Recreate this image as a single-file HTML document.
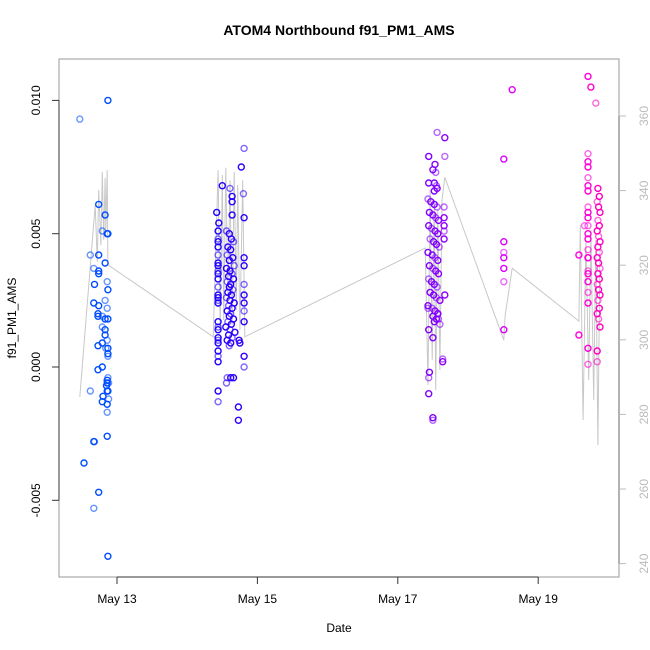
<!DOCTYPE html>
<html><head><meta charset="utf-8"><style>
body{margin:0;background:#fff}
svg{display:block;font-family:"Liberation Sans",sans-serif}
</style></head><body>
<svg id="chart" width="650" height="650">
<text x="339" y="35" text-anchor="middle" font-size="14" font-weight="bold">ATOM4 Northbound f91_PM1_AMS</text>
<text x="339" y="632" text-anchor="middle" font-size="12">Date</text>
<text transform="translate(16,318) rotate(-90)" text-anchor="middle" font-size="12">f91_PM1_AMS</text>
<rect x="59" y="59" width="560" height="518" fill="none" stroke="#999"/>
<g id="line"></g>
<g id="pts"></g>
<g id="axes"></g>
</svg>
<script>
const xTicks=[13,15,17,19];
const xTickLabels=["May 13","May 15","May 17","May 19"];
const yTicks=[-0.005,0,0.005,0.010];
const yTickLabels=["-0.005","0.000","0.005","0.010"];
const rTicks=[240,260,280,300,320,340,360];
const lineDays=[12.47,12.69,12.72,12.74,12.77,12.79,12.81,12.83,12.84,12.86,12.87,14.37,14.44,14.47,14.50,14.52,14.55,14.58,14.61,14.64,14.67,14.70,14.72,14.75,14.79,14.82,17.39,17.43,17.46,17.49,17.52,17.54,17.57,17.60,17.63,17.67,18.51,18.53,18.63,19.58,19.60,19.64,19.68,19.72,19.75,19.79,19.82,19.85,19.88];
const lineVals=[284.7,336.1,320.9,340.2,325.4,345.0,326.8,343.4,328.9,345.5,320.1,300.8,345.5,302.6,344.2,305.3,346.1,310.7,342.8,304.0,345.0,308.0,341.5,302.6,342.8,300.8,324.6,287.9,340.2,294.6,337.5,286.5,334.8,291.9,337.5,343.6,299.9,306.6,319.2,305.0,330.8,278.5,326.8,289.2,329.4,283.9,326.8,271.8,324.1];
const days=[
12.87,12.47,12.74,12.83,12.79,12.86,12.87,12.62,12.74,12.83,12.67,12.74,12.74,12.86,12.68,12.87,12.83,12.67,12.74,12.86,12.73,12.73,12.79,12.83,12.87,12.79,12.83,12.83,12.86,12.79,12.73,12.84,12.87,12.87,12.87,12.79,12.73,12.87,12.86,12.86,12.88,12.85,12.86,12.62,12.87,12.80,12.88,12.79,12.86,12.86,12.86,12.67,12.68,12.53,12.74,12.67,12.87,
14.44,14.44,14.44,14.44,14.44,14.44,14.44,14.44,14.44,14.44,14.44,14.44,14.44,14.44,14.44,14.44,14.44,14.44,14.44,14.44,14.44,14.44,14.44,14.44,14.44,14.44,14.45,14.42,
14.81,14.77,14.50,14.61,14.64,14.64,14.80,14.64,14.81,
14.56,14.60,14.63,14.66,14.58,14.62,14.57,14.65,14.60,14.67,14.56,14.61,14.64,14.59,14.66,14.57,14.62,14.60,14.65,14.58,14.63,14.56,14.61,14.67,14.59,14.64,14.57,14.62,14.60,14.66,14.58,14.63,14.55,14.61,14.68,14.59,14.64,14.57,14.62,14.60,
14.81,14.81,14.81,14.81,14.81,14.81,14.81,14.81,14.81,14.74,14.75,
14.57,14.62,14.66,14.56,14.73,14.73,
17.56,17.67,17.44,17.67,17.50,17.53,17.54,17.44,17.52,17.55,17.52,17.56,
17.43,17.47,17.52,17.56,17.45,17.50,17.54,17.58,17.44,17.48,17.53,17.57,17.46,17.51,17.55,17.59,17.43,17.49,17.53,17.57,17.45,17.50,17.54,17.58,17.44,17.48,17.52,17.56,17.46,17.51,17.55,17.60,17.43,17.49,17.53,17.57,
17.66,17.66,17.66,17.66,17.66,
17.67,17.43,17.57,17.50,17.58,17.52,17.55,17.60,17.44,17.50,17.64,17.64,17.45,17.44,17.44,17.50,17.50,
18.51,18.51,18.51,18.51,18.51,18.51,18.51,18.63,
19.71,19.71,19.71,19.71,19.71,19.71,19.71,19.71,19.71,19.71,19.71,19.71,19.71,19.71,19.71,19.71,19.71,19.71,19.71,19.71,19.71,19.71,
19.58,19.58,19.66,
19.85,19.87,19.84,19.86,19.88,19.85,19.87,19.84,19.86,19.88,19.85,19.87,19.84,19.86,19.88,19.85,19.87,19.84,19.86,19.88,19.85,19.87,19.84,19.86,19.88,
19.84,19.84,19.71,19.75,19.82];
const vals=[
.0100,.0093,.0061,.0057,.0051,.0050,.0050,.0042,.0042,.0039,.0037,.0036,.0035,.0032,.0031,.0029,.0025,.0024,.0023,.0022,.0020,.0019,.0019,.0018,.0018,.0015,.0014,.0012,.0010,.0009,.0008,.0007,.0007,.0005,.0004,.0000,-.0001,-.0004,-.0005,-.0006,-.0006,-.0007,-.0009,-.0009,-.0009,-.0011,-.0012,-.0013,-.0014,-.0017,-.0026,-.0028,-.0028,-.0036,-.0047,-.0053,-.0071,
.0051,.0048,.0047,.0045,.0042,.0039,.0038,.0036,.0035,.0033,.0030,.0027,.0026,.0025,.0024,.0017,.0015,.0014,.0011,.0010,.0009,.0006,.0004,.0002,-.0009,-.0013,.0054,.0058,
.0082,.0075,.0068,.0067,.0064,.0062,.0065,.0057,.0056,
.0051,.0050,.0048,.0047,.0045,.0044,.0042,.0041,.0040,.0038,.0037,.0036,.0035,.0034,.0033,.0032,.0031,.0030,.0029,.0028,.0027,.0026,.0025,.0024,.0023,.0022,.0021,.0020,.0019,.0018,.0017,.0016,.0015,.0014,.0013,.0012,.0011,.0010,.0009,.0008,
.0041,.0038,.0031,.0027,.0024,.0021,.0017,.0004,.0000,.0010,.0009,
-.0004,-.0004,-.0004,-.0006,-.0015,-.0020,
.0088,.0086,.0079,.0079,.0074,.0076,.0073,.0069,.0069,.0068,.0066,.0067,
.0063,.0062,.0061,.0060,.0058,.0057,.0056,.0055,.0053,.0052,.0051,.0050,.0048,.0047,.0046,.0045,.0043,.0042,.0041,.0040,.0038,.0037,.0036,.0035,.0033,.0032,.0031,.0030,.0028,.0027,.0026,.0025,.0023,.0022,.0021,.0020,
.0060,.0056,.0053,.0051,.0048,
.0027,.0022,.0020,.0019,.0018,.0017,.0018,.0016,.0014,.0011,.0003,.0002,-.0002,-.0004,-.0010,-.0019,-.0020,
.0078,.0047,.0043,.0041,.0037,.0032,.0014,.0104,
.0080,.0077,.0075,.0071,.0068,.0066,.0060,.0058,.0056,.0053,.0050,.0048,.0044,.0041,.0041,.0036,.0035,.0032,.0028,.0024,.0007,.0001,
.0042,.0012,.0053,
.0067,.0064,.0062,.0060,.0058,.0055,.0053,.0051,.0049,.0047,.0045,.0043,.0041,.0039,.0037,.0035,.0033,.0031,.0029,.0027,.0025,.0022,.0020,.0018,.0015,
.0006,.0002,.0109,.0105,.0099];

const NS="http://www.w3.org/2000/svg";
const xS=d=>117+(d-13)*70.2;
const yS=v=>367-v/0.005*133.3;
const rS=v=>116+(360-v)*3.73;
function hue(d){const s=[[12.5,222],[12.9,222],[14.6,250],[17.5,270],[18.5,292],[19.6,306],[19.9,316]];
 for(let i=1;i<s.length;i++){if(d<=s[i][0]){const a=s[i-1],b=s[i];return a[1]+(b[1]-a[1])*(d-a[0])/(b[0]-a[0]);}}return 316;}
function mk(t,attrs,parent){const e=document.createElementNS(NS,t);for(const k in attrs)e.setAttribute(k,attrs[k]);parent.appendChild(e);return e;}

const lg=document.getElementById('line');
const pl=mk('polyline',{points:lineDays.map((d,i)=>xS(d).toFixed(1)+','+rS(lineVals[i]).toFixed(1)).join(' '),fill:'none',stroke:'#c8c8c8','stroke-width':1},lg);



const pg=document.getElementById('pts');
days.forEach((d,i)=>{
 const c=mk('circle',{cx:xS(d).toFixed(1),cy:yS(vals[i]).toFixed(1),r:3,fill:'none',stroke:'hsl('+hue(d).toFixed(0)+',100%,50%)','stroke-width':1.4,'stroke-opacity':(i%3==1?0.6:1)},pg);
 
 
});

const ax=document.getElementById('axes');
mk('line',{x1:59,x2:59,y1:yS(0.010),y2:yS(-0.005),stroke:'#333'},ax);
yTicks.forEach((v,i)=>{
 mk('line',{x1:52,x2:59,y1:yS(v),y2:yS(v),stroke:'#333'},ax);
 const t=mk('text',{transform:'translate(40,'+yS(v)+') rotate(-90)','text-anchor':'middle','font-size':12},ax);
 t.textContent=yTickLabels[i];
 
 
});
mk('line',{x1:xS(13),x2:xS(19),y1:577,y2:577,stroke:'#333'},ax);
xTicks.forEach((d,i)=>{
 mk('line',{x1:xS(d),x2:xS(d),y1:577,y2:584,stroke:'#333'},ax);
 const t=mk('text',{x:xS(d),y:603,'text-anchor':'middle','font-size':12},ax);
 t.textContent=xTickLabels[i];
 
 
});
mk('line',{x1:619,x2:619,y1:rS(360),y2:rS(240),stroke:'#666'},ax);
rTicks.forEach(v=>{
 mk('line',{x1:619,x2:626,y1:rS(v),y2:rS(v),stroke:'#bbb'},ax);
 const t=mk('text',{transform:'translate(648,'+rS(v)+') rotate(-90)','text-anchor':'middle','font-size':12,fill:'#bbb'},ax);
 t.textContent=String(v);
 
 
});
</script>
</body></html>
